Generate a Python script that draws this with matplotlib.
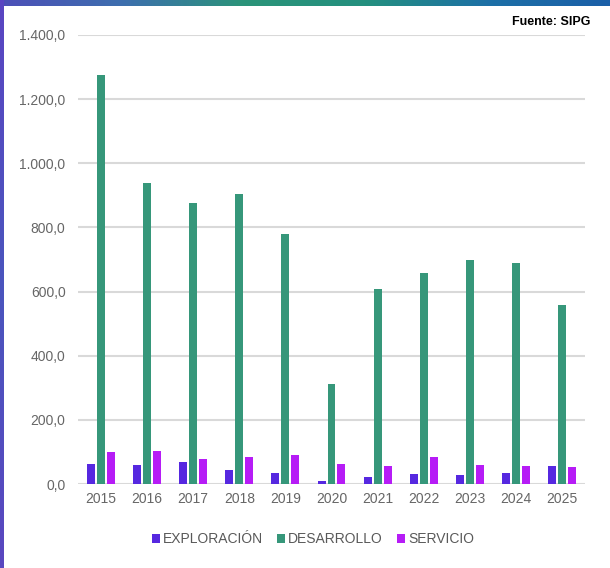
import numpy as np
import matplotlib
matplotlib.use("Agg")
import matplotlib.pyplot as plt
from matplotlib.colors import LinearSegmentedColormap

years = ["2015", "2016", "2017", "2018", "2019", "2020",
         "2021", "2022", "2023", "2024", "2025"]
exploracion = [63, 58, 68, 44, 33, 9, 23, 32, 27, 33, 56]
desarrollo = [1275, 938, 875, 903, 781, 312, 607, 657, 698, 690, 558]
servicio = [100, 102, 77, 84, 91, 62, 56, 83, 58, 55, 54]
series_names = ["EXPLORACIÓN", "DESARROLLO", "SERVICIO"]
series_colors = ["#5628e0", "#36977a", "#b61cf6"]

plt.rcParams["font.family"] = ["Liberation Sans", "DejaVu Sans"]

fig = plt.figure(figsize=(6.10, 5.68), dpi=100)

# decorative border strips (top gradient band and left strip)
top = fig.add_axes([0, 1 - 6 / 568, 1, 6 / 568])
top_cmap = LinearSegmentedColormap.from_list(
    "top", ["#4d4fb8", "#3d6fae", "#2b9479", "#24907f", "#1d70a6", "#1a5fa8"])
top.imshow(np.linspace(0, 1, 300)[None, :], aspect="auto", cmap=top_cmap)
top.axis("off")
left = fig.add_axes([0, 0, 4 / 610, 1])
left_cmap = LinearSegmentedColormap.from_list("left", ["#5a45c2", "#4a55bd", "#5a47c0"])
left.imshow(np.linspace(0, 1, 300)[:, None], aspect="auto", cmap=left_cmap)
left.axis("off")

ax = fig.add_axes([78 / 610, 1 - 484 / 568, (585 - 78) / 610, (484 - 35) / 568])

x = np.arange(len(years))
pitch = 0.216
width = 0.172
for i, (vals, name, col) in enumerate(zip([exploracion, desarrollo, servicio],
                                           series_names, series_colors)):
    ax.bar(x + (i - 1) * pitch, vals, width, color=col, label=name, zorder=3)

ax.set_xlim(-0.5, 10.5)
ax.set_ylim(0, 1400)
ax.set_yticks(np.arange(0, 1401, 200))
ax.set_yticklabels([f"{v:,.1f}".replace(",", "X").replace(".", ",").replace("X", ".")
                    for v in np.arange(0, 1401, 200)])
ax.set_xticks(x)
ax.set_xticklabels(years)
ax.tick_params(axis="both", length=0, labelsize=10, colors="#666666")
ax.tick_params(axis="y", pad=9)
ax.tick_params(axis="x", pad=6)
ax.grid(axis="y", color="#d9d9d9", linewidth=1.5, zorder=0)
for s in ax.spines.values():
    s.set_visible(False)

fig.text(590 / 610, 1 - 22 / 568, "Fuente: SIPG", ha="right", va="center",
         fontsize=9, fontweight="bold", color="#000000")

fig.legend(loc="center", bbox_to_anchor=(0.513, 1 - 539 / 568), ncol=3,
           frameon=False, fontsize=10, handlelength=0.6, handleheight=0.6,
           handletextpad=0.2, columnspacing=1.0, labelcolor="#595959")

fig.savefig("out.png", dpi=100)
